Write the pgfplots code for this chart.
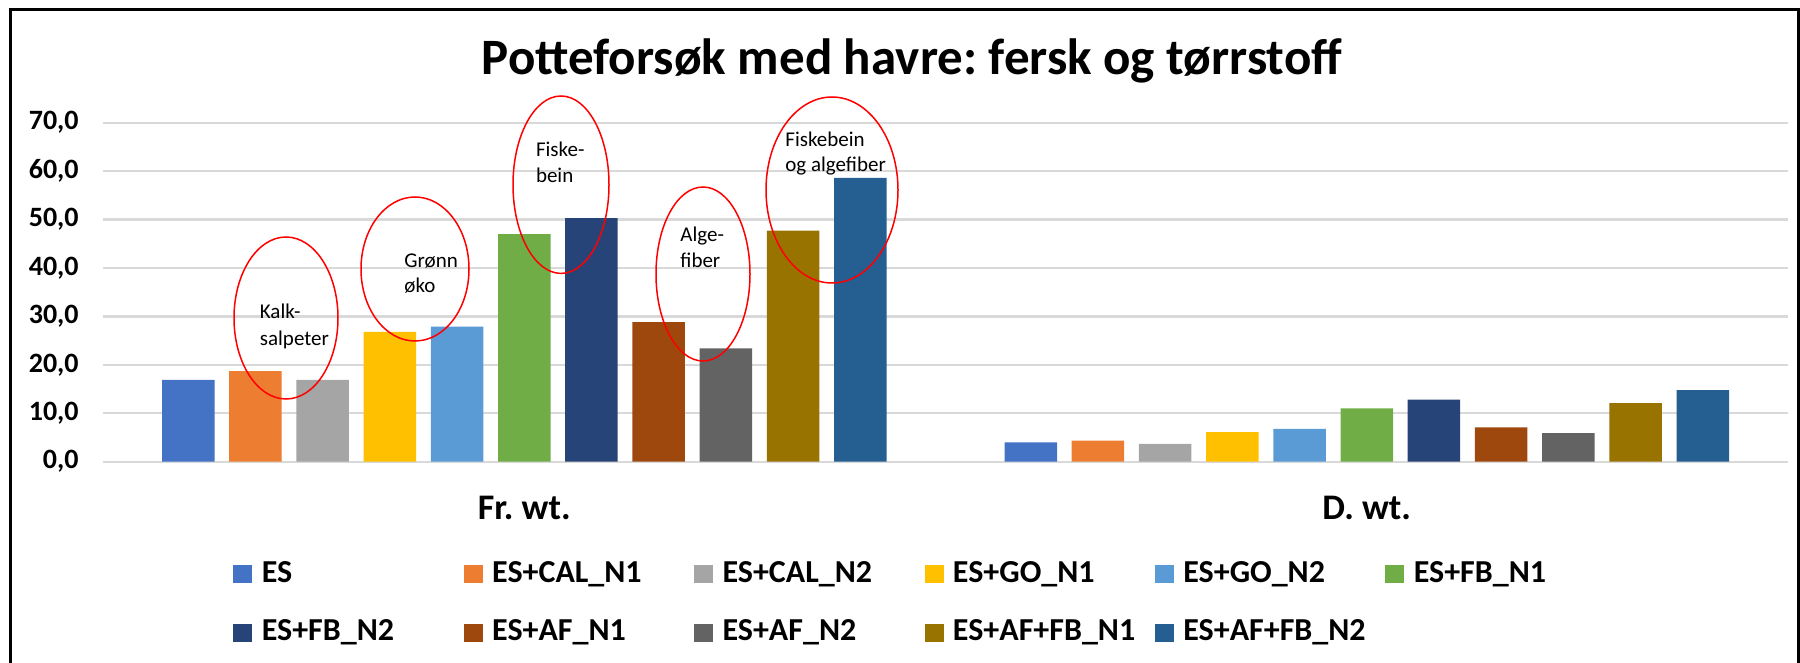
\documentclass[border=0pt]{standalone}
\usepackage{fontspec}
\setmainfont{Carlito}
\usepackage{pgfplots}
\pgfplotsset{compat=1.18}
\frenchspacing
\definecolor{cES}{HTML}{4472C4}
\definecolor{cCALa}{HTML}{ED7D31}
\definecolor{cCALb}{HTML}{A5A5A5}
\definecolor{cGOa}{HTML}{FFC000}
\definecolor{cGOb}{HTML}{5B9BD5}
\definecolor{cFBa}{HTML}{70AD47}
\definecolor{cFBb}{HTML}{264478}
\definecolor{cAFa}{HTML}{9E480E}
\definecolor{cAFb}{HTML}{636363}
\definecolor{cAFFBa}{HTML}{997300}
\definecolor{cAFFBb}{HTML}{255E91}
\definecolor{gridgray}{HTML}{D9D9D9}
\pgfplotsset{
  mybar/.style={fill=#1, draw=none,
    legend image code/.code={\fill[##1] (0pt,-4.5pt) rectangle (9.5pt,4.5pt);}},
}
\newcommand{\lt}[1]{\makebox[101pt][l]{#1}}
\begin{document}
\frenchspacing
\begin{tikzpicture}
\path[use as bounding box] (0,0) rectangle (900pt,-331.5pt);
\begin{axis}[
  at={(51.5pt,-230.85pt)}, anchor=south west,
  scale only axis, width=842.5pt, height=169.5pt,
  xmin=-0.5, xmax=1.5, ymin=0, ymax=70,
  xtick={0,1}, xticklabels={Fr. wt., D. wt.},
  ytick={0,10,...,70},
  ymajorgrids, grid style={draw=gridgray, line width=1.15pt},
  axis line style={draw=none}, major tick length=0pt,
  ybar=7.35pt, bar width=26.25pt,
  clip=false,
  /pgf/number format/assume math mode=true,
  yticklabel={\pgfmathprintnumber[fixed,fixed zerofill,precision=1,use comma]{\tick}},
  yticklabel style={font=\fontsize{14}{17}\selectfont\bfseries, inner sep=0pt, xshift=-12pt},
  xticklabel style={font=\fontsize{18}{21}\selectfont\bfseries, anchor=base, inner sep=0pt, yshift=-29pt},
  legend columns=6,
  legend style={at={(0.07715,-0.2891)}, anchor=north west, draw=none, fill=none, inner sep=0pt,
    font=\fontsize{16}{19}\selectfont\bfseries, row sep=15.25pt, column sep=0pt,
    nodes={inner sep=0pt, text height=11pt, text depth=3pt},
    /tikz/every odd column/.style={column sep=4.7pt}},
]
\addplot[mybar=cES] coordinates {(0,16.9) (1,4.0)};
\addplot[mybar=cCALa] coordinates {(0,18.7) (1,4.35)};
\addplot[mybar=cCALb] coordinates {(0,16.9) (1,3.7)};
\addplot[mybar=cGOa] coordinates {(0,26.8) (1,6.1)};
\addplot[mybar=cGOb] coordinates {(0,27.9) (1,6.8)};
\addplot[mybar=cFBa] coordinates {(0,47.0) (1,11.0)};
\addplot[mybar=cFBb] coordinates {(0,50.3) (1,12.8)};
\addplot[mybar=cAFa] coordinates {(0,28.8) (1,7.1)};
\addplot[mybar=cAFb] coordinates {(0,23.4) (1,5.9)};
\addplot[mybar=cAFFBa] coordinates {(0,47.7) (1,12.1)};
\addplot[mybar=cAFFBb] coordinates {(0,58.6) (1,14.8)};
\legend{\lt{ES},\lt{ES+CAL\_N1},\lt{ES+CAL\_N2},\lt{ES+GO\_N1},\lt{ES+GO\_N2},\lt{ES+FB\_N1},
  \lt{ES+FB\_N2},\lt{ES+AF\_N1},\lt{ES+AF\_N2},\lt{ES+AF+FB\_N1},\lt{ES+AF+FB\_N2}}
\end{axis}
\begin{scope}[x=0.5pt,y=-0.5pt]
\node[anchor=base, inner sep=0pt, font=\fontsize{25.5}{30}\selectfont\bfseries] at (912,75) {Potteforsøk med havre: fersk og tørrstoff};
\draw[line width=1.5pt] (10,663) -- (10,9.5) -- (1798.5,9.5) -- (1798.5,663);
\begin{scope}[red, line width=0.75pt]
\draw (286,318) ellipse [x radius=52, y radius=81];
\draw (415,269) ellipse [x radius=54, y radius=72];
\draw (561,184.7) ellipse [x radius=48, y radius=88.7];
\draw (703,274) ellipse [x radius=47, y radius=87];
\draw (832,190) ellipse [x radius=66, y radius=93];
\end{scope}
\begin{scope}[every node/.style={anchor=base west, inner sep=0pt, font=\fontsize{10.5}{13}\selectfont}]
\node at (259.5,319) {Kalk-};
\node at (259.5,345) {salpeter};
\node at (404,268) {Grønn};
\node at (404,293) {øko};
\node at (535.6,157) {Fiske-};
\node at (535.6,183) {bein};
\node at (680,242) {Alge-};
\node at (680,268) {fiber};
\node at (785,147) {Fiskebein};
\node at (785,172) {og algefiber};
\end{scope}
\end{scope}
\end{tikzpicture}
\end{document}
